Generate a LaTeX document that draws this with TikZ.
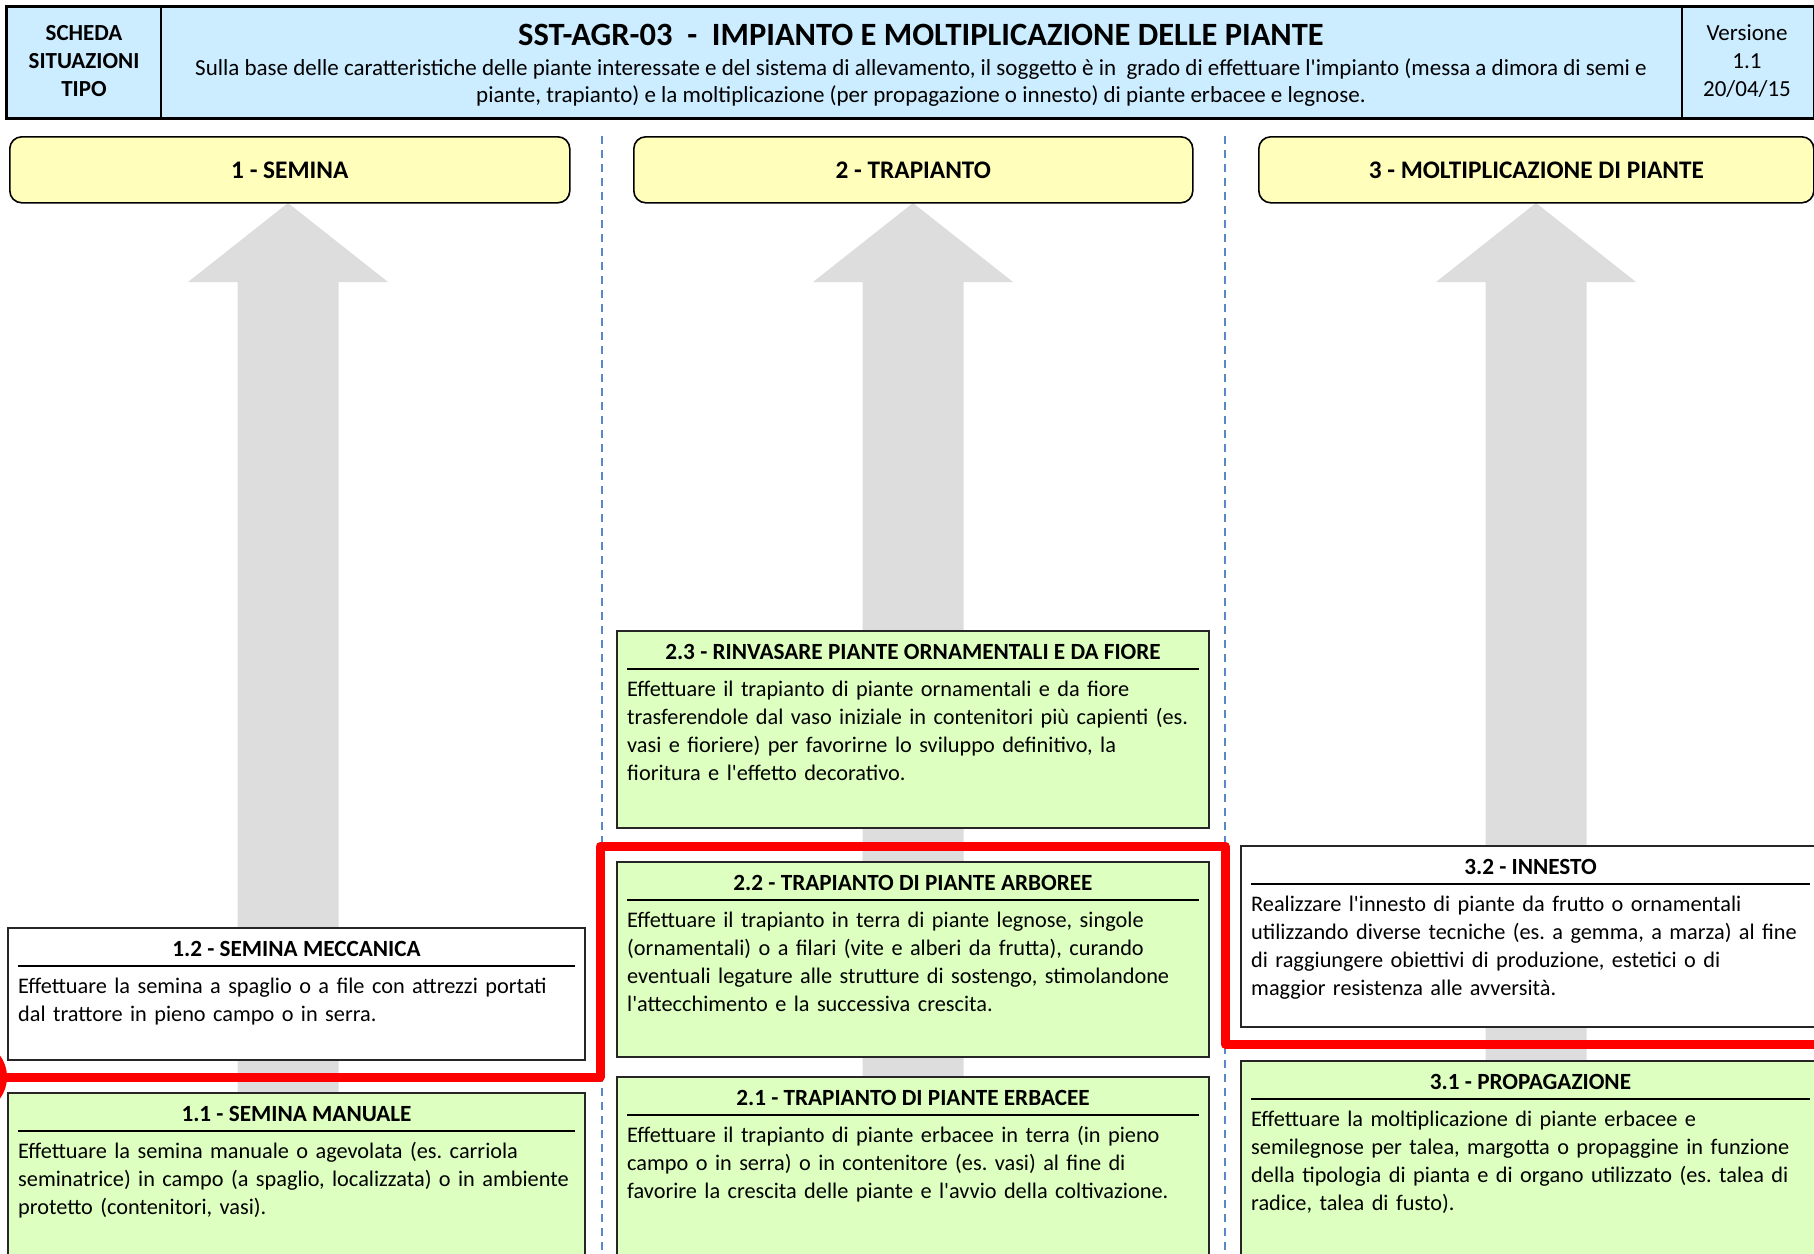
\documentclass[tikz,border=0pt]{standalone}
\usepackage{fontspec}
\setmainfont{Carlito}
\usetikzlibrary{calc}

\definecolor{hdrblue}{HTML}{CCECFF}
\definecolor{hdryellow}{HTML}{FFFFBB}
\definecolor{boxgreen}{HTML}{DDFFBF}
\definecolor{arrowgray}{HTML}{DDDDDD}
\definecolor{sepblue}{HTML}{5B87C8}
\definecolor{pathred}{HTML}{FF0000}

\newcommand\q{\textquotesingle}
\frenchspacing

% task box: name, x, y (top left), width, height, fill, title, body
\newcommand\taskbox[8]{%
  \node[tbox, fill=#6, minimum width=#4pt, minimum height=#5pt] (#1) at (#2,#3) {};
  \node[ttitle] (#1-t) at ([yshift=-28.5pt]#1.north) {#7};
  \draw[trule] ([xshift=10pt,yshift=-38pt]#1.north west) -- ([xshift=-10pt,yshift=-38pt]#1.north east);
  \node[tbody] (#1-b) at ([xshift=10pt,yshift=-65pt]#1.north west) {#8};
}

\tikzset{
  tbox/.style={rectangle, draw=black!85, line width=2pt, anchor=north west, inner sep=0pt, outer sep=0pt},
  ttitle/.style={anchor=base, inner sep=0pt, font=\fontsize{23.2}{26}\selectfont\bfseries},
  trule/.style={line width=2.2pt, black},
  tbody/.style={anchor=base west, inner sep=0pt, text width=620pt, align=left,
                font=\fontsize{22.3}{28.3}\selectfont},
  colhead/.style={rectangle, rounded corners=12pt, draw=black, line width=1.6pt, fill=hdryellow,
                  anchor=north west, inner sep=0pt, minimum height=66pt},
  colhtext/.style={inner sep=0pt, font=\fontsize{25.3}{28}\selectfont\bfseries},
  uparrow/.style={fill=arrowgray},
  separator/.style={sepblue, line width=2pt, dash pattern=on 8pt off 6pt},
  redpath/.style={pathred, line width=9pt, line join=round},
  hdrtext/.style={inner sep=0pt, align=center},
}

\begin{document}
\begin{tikzpicture}[x=1pt, y=-1pt]
\useasboundingbox (0,0) rectangle (1814,1253);
\clip (0,0) rectangle (1814,1253);
\fill[white] (0,0) rectangle (1814,1253);

% ---------- header ----------
\node[rectangle, draw=black, line width=3pt, fill=hdrblue, anchor=north west, inner sep=0pt,
      minimum width=1808pt, minimum height=112pt] (hdr) at (5,5) {};
\draw[line width=2pt] (161,5) -- (161,117);
\draw[line width=2pt] (1682,5) -- (1682,117);
\node[hdrtext, font=\fontsize{23}{28.3}\selectfont\bfseries] (scheda) at (84,61)
  {SCHEDA\\SITUAZIONI\\TIPO};
\node[hdrtext, font=\fontsize{23}{28.3}\selectfont] (versione) at (1747,61)
  {Versione\\1.1\\20/04/15};
\node[inner sep=0pt, anchor=base, font=\fontsize{32.5}{36}\selectfont\bfseries] (title) at (921,45)
  {SST-AGR-03\ \ -\ \ IMPIANTO E MOLTIPLICAZIONE DELLE PIANTE};
\node[inner sep=0pt, anchor=base, align=center, font=\fontsize{23}{27}\selectfont] (subtitle) at (921,102)
  {Sulla base delle caratteristiche delle piante interessate e del sistema di allevamento, il soggetto è in\ \ grado di effettuare l\q impianto (messa a dimora di semi e\\
   piante, trapianto) e la moltiplicazione (per propagazione o innesto) di piante erbacee e legnose.};

% ---------- grey upward arrows ----------
\foreach \cx in {288, 913, 1536} {
  \fill[uparrow] (\cx,203) -- (\cx+100,282) -- (\cx+50.5,282) -- (\cx+50.5,1260)
                 -- (\cx-50.5,1260) -- (\cx-50.5,282) -- (\cx-100,282) -- cycle;
}

% ---------- column separators ----------
\coordinate (sepA-top) at (602,136);
\coordinate (sepA-bot) at (602,1260);
\coordinate (sepB-top) at (1225,136);
\coordinate (sepB-bot) at (1225,1260);
\draw[separator] (sepA-top) -- (sepA-bot);
\draw[separator] (sepB-top) -- (sepB-bot);

% ---------- column headers ----------
\node[colhead, minimum width=560pt] (col1) at (9,136) {};
\node[colhtext] (col1-t) at (col1.center) {1 - SEMINA};
\node[colhead, minimum width=559pt] (col2) at (633,136) {};
\node[colhtext] (col2-t) at (col2.center) {2 - TRAPIANTO};
\node[colhead, minimum width=555pt] (col3) at (1258,136) {};
\node[colhtext] (col3-t) at (col3.center) {3 - MOLTIPLICAZIONE DI PIANTE};

% ---------- column 1 ----------
\taskbox{s12}{8}{928}{577}{132}{white}{1.2 - SEMINA MECCANICA}
  {Effettuare la semina a spaglio o a file con attrezzi portati\\dal trattore in pieno campo o in serra.}
\taskbox{s11}{8}{1093}{577}{175}{boxgreen}{1.1 - SEMINA MANUALE}
  {Effettuare la semina manuale o agevolata (es. carriola\\seminatrice) in campo (a spaglio, localizzata) o in ambiente\\protetto (contenitori, vasi).}

% ---------- column 2 ----------
\taskbox{t23}{617}{631}{592}{197}{boxgreen}{2.3 - RINVASARE PIANTE ORNAMENTALI E DA FIORE}
  {Effettuare il trapianto di piante ornamentali e da fiore\\trasferendole dal vaso iniziale in contenitori più capienti (es.\\vasi e fioriere) per favorirne lo sviluppo definitivo, la\\fioritura e l\q effetto decorativo.}
\taskbox{t22}{617}{862}{592}{195}{boxgreen}{2.2 - TRAPIANTO DI PIANTE ARBOREE}
  {Effettuare il trapianto in terra di piante legnose, singole\\(ornamentali) o a filari (vite e alberi da frutta), curando\\eventuali legature alle strutture di sostengo, stimolandone\\l\q attecchimento e la successiva crescita.}
\taskbox{t21}{617}{1077}{592}{190}{boxgreen}{2.1 - TRAPIANTO DI PIANTE ERBACEE}
  {Effettuare il trapianto di piante erbacee in terra (in pieno\\campo o in serra) o in contenitore (es. vasi) al fine di\\favorire la crescita delle piante e l\q avvio della coltivazione.}

% ---------- column 3 ----------
\taskbox{m32}{1241}{846}{579}{181}{white}{3.2 - INNESTO}
  {Realizzare l\q innesto di piante da frutto o ornamentali\\utilizzando diverse tecniche (es. a gemma, a marza) al fine\\di raggiungere obiettivi di produzione, estetici o di\\maggior resistenza alle avversità.}
\taskbox{m31}{1241}{1061}{579}{205}{boxgreen}{3.1 - PROPAGAZIONE}
  {Effettuare la moltiplicazione di piante erbacee e\\semilegnose per talea, margotta o propaggine in funzione\\della tipologia di pianta e di organo utilizzato (es. talea di\\radice, talea di fusto).}

% ---------- red level line ----------
\coordinate (r0) at (-29.5,1077);
\coordinate (r1) at (600,1077);
\coordinate (r2) at (600,846);
\coordinate (r3) at (1225,846);
\coordinate (r4) at (1225,1044);
\coordinate (r5) at (1830,1044);
\fill[pathred] (r0) circle (36.5pt);
\draw[redpath] (r0) -- (r1) -- (r2) -- (r3) -- (r4) -- (r5);
\end{tikzpicture}
\end{document}
